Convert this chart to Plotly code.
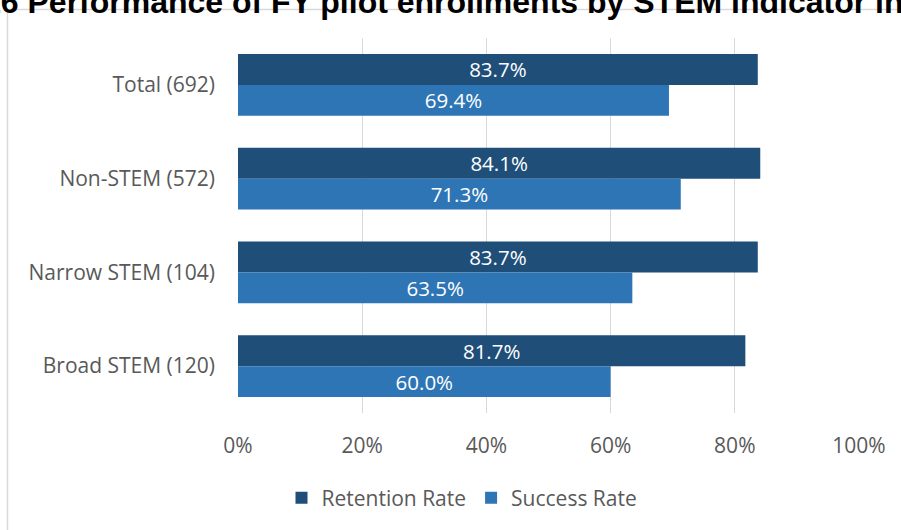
import plotly.graph_objects as go

categories = ["Total (692)", "Non-STEM (572)", "Narrow STEM (104)", "Broad STEM (120)"]
retention_rate = [83.7, 84.1, 83.7, 81.7]
success_rate = [69.4, 71.3, 63.5, 60.0]
series_names = ["Retention Rate", "Success Rate"]
series_colors = ["#1F4E79", "#2E75B6"]
x_ticks = [0, 20, 40, 60, 80, 100]
x_tick_labels = ["0%", "20%", "40%", "60%", "80%", "100%"]
title_text = "16 Performance of FY pilot enrollments by STEM indicator in"

W, H = 901, 530
ML, MR, MT, MB = 238, 42, 38, 117
PW, PH = W - ML - MR, H - MT - MB


def px_x(px):
    return (px - ML) / PW


def px_y(py):
    return (H - MB - py) / PH


fig = go.Figure()
for name, vals, col in zip(series_names, [retention_rate, success_rate], series_colors):
    fig.add_trace(go.Bar(
        name=name,
        y=categories,
        x=vals,
        orientation="h",
        marker=dict(color=col, line=dict(width=0)),
        text=[f"{v:.1f}%" for v in vals],
        textposition="inside",
        insidetextanchor="middle",
        textangle=0,
        textfont=dict(family="Open Sans", size=20.5, color="white"),
        hoverinfo="skip",
    ))

fig.update_layout(
    width=W, height=H,
    margin=dict(l=ML, r=MR, t=MT, b=MB),
    paper_bgcolor="white",
    plot_bgcolor="white",
    barmode="group",
    bargap=0.34,
    bargroupgap=0,
    font=dict(family="Open Sans", color="#595959", size=21),
    uniformtext=dict(minsize=20, mode="show"),
    xaxis=dict(
        range=[0, 100],
        tickvals=x_ticks,
        ticktext=x_tick_labels,
        showgrid=True,
        gridcolor="#D9D9D9",
        gridwidth=1,
        zeroline=False,
        showline=False,
        ticks="",
        ticklabelstandoff=18,
        tickfont=dict(size=21, color="#595959"),
        fixedrange=True,
    ),
    yaxis=dict(
        autorange="reversed",
        showgrid=False,
        zeroline=False,
        showline=False,
        ticks="",
        ticklabelstandoff=22,
        tickfont=dict(size=21, color="#595959"),
        fixedrange=True,
    ),
    legend=dict(
        orientation="h",
        x=px_x(462), xanchor="center",
        y=px_y(498), yanchor="middle",
        font=dict(size=21, color="#595959"),
        itemwidth=30,
        traceorder="normal",
    ),
    showlegend=True,
    shapes=[dict(
        type="rect", xref="paper", yref="paper",
        x0=px_x(7.5), x1=px_x(940), y0=px_y(560), y1=px_y(9.5),
        line=dict(color="#D9D9D9", width=1.5),
        fillcolor="rgba(0,0,0,0)", layer="below",
    )],
    annotations=[dict(
        text=f"<b>{title_text}</b>",
        xref="paper", yref="paper",
        x=px_x(-19), xanchor="left",
        y=px_y(1.5), yanchor="middle",
        showarrow=False,
        font=dict(family="Liberation Sans", size=32, color="black"),
    )],
)

fig.write_html("out.html")
